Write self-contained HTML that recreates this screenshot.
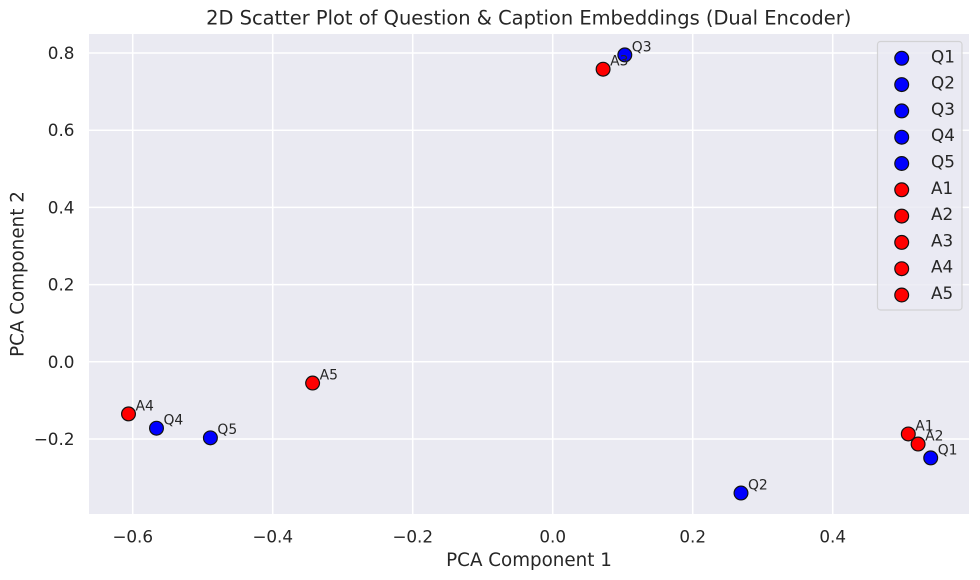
<!DOCTYPE html>
<html>
<head>
<meta charset="utf-8">
<style>
html,body{margin:0;padding:0;background:#fff;}
svg{display:block;}
text{font-family:"DejaVu Sans","Liberation Sans",sans-serif;fill:#262626;}
</style>
</head>
<body>
<svg id="chart" width="980" height="580" viewBox="0 0 980 580" xmlns="http://www.w3.org/2000/svg"></svg>
<script>
const seriesNames = ['Q1','Q2','Q3','Q4','Q5','A1','A2','A3','A4','A5'];
const component1 = [0.540,0.269,0.103,-0.566,-0.489,0.508,0.522,0.072,-0.606,-0.343];
const component2 = [-0.249,-0.340,0.795,-0.172,-0.197,-0.187,-0.213,0.758,-0.135,-0.055];
const seriesColors = ['blue','blue','blue','blue','blue','red','red','red','red','red'];
const xTicks = [-0.6,-0.4,-0.2,0,0.2,0.4];
const yTicks = [-0.2,0,0.2,0.4,0.6,0.8];

const NS = 'http://www.w3.org/2000/svg';
const svg = document.getElementById('chart');
const plot = {left:89,right:969,top:34,bottom:514};
function xScale(v){return 552.7 + 700*v;}
function yScale(v){return 361.8 - 386*v;}
function fmt(v){
  const s = Math.abs(v).toFixed(1);
  return (v<0?'\u2212':'')+s;
}
function add(tag,attrs,text){
  const el = document.createElementNS(NS,tag);
  for(const k in attrs){el.setAttribute(k,attrs[k]);}
  if(text!==undefined){el.textContent=text;}
  svg.appendChild(el);
  return el;
}

const bg = add('rect',{x:plot.left,y:plot.top,width:plot.right-plot.left,height:plot.bottom-plot.top,fill:'#eaeaf2'});



xTicks.forEach(function(t){
  const x = xScale(t);
  const g = add('line',{x1:x,x2:x,y1:plot.top,y2:plot.bottom,stroke:'#fff','stroke-width':1.5});
  
  
  const l = add('text',{x:x,y:542.5,'text-anchor':'middle','font-size':'16.8px'},fmt(t));
  
  
});
yTicks.forEach(function(t){
  const y = yScale(t);
  const g = add('line',{x1:plot.left,x2:plot.right,y1:y,y2:y,stroke:'#fff','stroke-width':1.5});
  
  
  const l = add('text',{x:74.5,y:y+6,'text-anchor':'end','font-size':'16.8px'},fmt(t));
  
  
});

seriesNames.forEach(function(n,i){
  const c = add('circle',{cx:xScale(component1[i]),cy:yScale(component2[i]),r:6.9,fill:seriesColors[i],stroke:'#111','stroke-width':1.2});
  
  
});
seriesNames.forEach(function(n,i){
  const t = add('text',{x:xScale(component1[i])+7,y:yScale(component2[i])-3.6,'font-size':'13.9px'},n);
  
  
});

const title = add('text',{x:528.7,y:24.5,'text-anchor':'middle','font-size':'19.45px'},'2D Scatter Plot of Question & Caption Embeddings (Dual Encoder)');


const xLabel = add('text',{x:529,y:566,'text-anchor':'middle','font-size':'18.3px'},'PCA Component 1');


const yLabel = add('text',{x:0,y:0,'text-anchor':'middle','font-size':'18.3px',transform:'translate(23.5,274) rotate(-90)'},'PCA Component 2');



const frame = add('rect',{x:877.5,y:41.5,width:84.5,height:268.5,rx:3,ry:3,fill:'#eaeaf2','fill-opacity':0.8,stroke:'#ccc','stroke-opacity':0.8,'stroke-width':1.2});


seriesNames.forEach(function(n,i){
  const y = 58.3 + 26.3*i;
  const m = add('circle',{cx:901.7,cy:y,r:6.9,fill:seriesColors[i],stroke:'#111','stroke-width':1.2});
  
  
  const t = add('text',{x:931,y:y+4,'font-size':'16.8px'},n);
  
  
});
</script>
</body>
</html>
